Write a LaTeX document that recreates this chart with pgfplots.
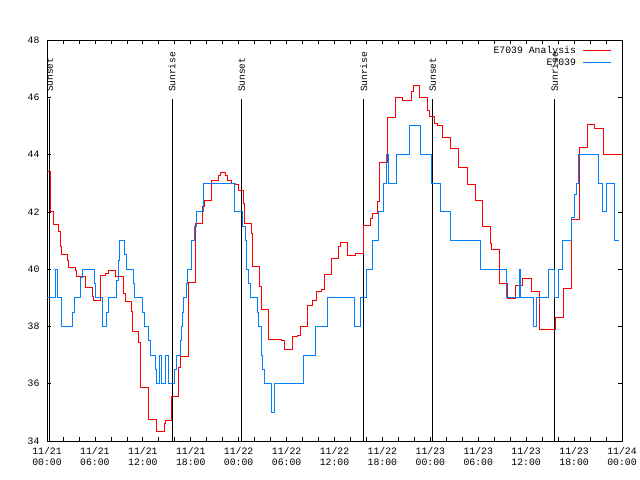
\documentclass[border=0pt]{standalone}
\usepackage{fontspec}
\setmainfont{Liberation Mono}
\usepackage{pgfplots}
\pgfplotsset{compat=1.18}
\definecolor{obsblue}{RGB}{0,128,255}
\begin{document}
\begin{tikzpicture}
\begin{axis}[
  at={(0,0)}, anchor=south west,
  scale only axis, width=575bp, height=401bp,
  xmin=0, xmax=72, ymin=34, ymax=48,
  xtick={0,6,...,72},
  minor x tick num=2,
  xticklabels={{11/21\\00:00},{11/21\\06:00},{11/21\\12:00},{11/21\\18:00},{11/22\\00:00},{11/22\\06:00},{11/22\\12:00},{11/22\\18:00},{11/23\\00:00},{11/23\\06:00},{11/23\\12:00},{11/23\\18:00},{11/24\\00:00}},
  ytick={34,36,...,48},
  tick align=inside,
  major tick length=4bp, minor tick length=4bp,
  every tick/.style={black, line width=0.7bp},
  axis line style={line width=0.8bp},
  xticklabel style={align=center, font=\fontsize{9.8bp}{11bp}\selectfont, yshift=-3bp},
  yticklabel style={font=\fontsize{9.8bp}{11bp}\selectfont, xshift=-4bp},
  /pgf/number format/assume math mode=true,
  legend style={at={(axis description cs:1,1)}, anchor=north east, draw=none, fill=none,
    xshift=-10bp, yshift=-4bp, inner sep=0pt, row sep=0pt, column sep=5bp,
    font=\fontsize{9.8bp}{11bp}\selectfont},
  legend cell align=right, legend plot pos=right,
  legend image code/.code={\draw[#1] (0bp,0bp) -- (28bp,0bp);},
]
% Sunrise / sunset markers
\addplot[black, line width=0.8bp, forget plot] coordinates {(0.33,34) (0.33,45.95)};
\addplot[black, line width=0.8bp, forget plot] coordinates {(15.65,34) (15.65,45.95)};
\addplot[black, line width=0.8bp, forget plot] coordinates {(24.4,34) (24.4,45.95)};
\addplot[black, line width=0.8bp, forget plot] coordinates {(39.65,34) (39.65,45.95)};
\addplot[black, line width=0.8bp, forget plot] coordinates {(48.29,34) (48.29,45.95)};
\addplot[black, line width=0.8bp, forget plot] coordinates {(63.56,34) (63.56,45.95)};

\addplot[red, line width=0.9bp, const plot] coordinates {
(0,43.40) (0.42,42.0) (0.75,41.55) (1.46,41.3) (1.67,40.78) (1.75,40.52) (2.50,40.31) (2.71,40.06)
(3.55,39.97) (3.67,39.74) (4.80,39.36) (5.63,39.03) (5.84,38.9) (6.68,39.79) (7.3,39.85) (7.72,39.94)
(8.56,39.73) (9.60,39.15) (9.81,38.86) (10.52,38.51) (10.64,37.81) (11.48,37.44) (11.69,35.87)
(12.65,34.76) (13.69,34.33) (14.69,34.62) (14.82,34.71) (15.57,35.55) (16.49,36.57) (16.69,36.94)
(17.65,39.52) (18.57,41.6) (19.49,42.2) (19.66,42.4) (20.6,43.1) (21.49,43.26) (21.70,43.36)
(22.33,43.26) (22.62,43.1) (23.1,43.0) (23.58,42.95) (24.0,42.76) (24.54,42.29) (24.75,41.6)
(25.6,41.24) (25.67,40.1) (26.63,39.4) (26.79,38.59) (27.67,37.55) (29.4,37.5) (29.72,37.2)
(30.68,37.66) (31.35,37.7) (31.72,38.0) (32.64,38.72) (33.3,38.9) (33.72,39.22) (34.4,39.3)
(34.73,39.8) (35.68,40.36) (36.52,40.8) (36.73,40.93) (37.65,40.49) (38.61,40.55) (39.57,41.27)
(39.65,41.52) (40.49,41.76) (40.69,41.94) (41.40,42.35) (41.61,43.71) (42.57,45.29) (43.61,46.01)
(44.57,45.9) (45.58,46.22) (45.83,46.42) (46.66,45.98) (47.58,45.55) (47.87,45.34) (48.50,45.08)
(48.9,45.02) (49.46,44.59) (50.50,44.21) (51.54,43.55) (52.59,42.97) (53.63,42.41) (54.55,41.48)
(55.51,40.9) (55.59,40.69) (56.68,39.5) (57.68,38.98) (58.68,39.44) (59.59,39.67) (60.60,39.21)
(61.64,37.9) (63.65,38.31) (64.70,39.33) (65.63,41.73) (66.61,44.24) (67.62,45.05) (68.53,44.91)
(69.70,44.01) (72,44.0)
};
\addlegendentry{E7039 Analysis}

\addplot[obsblue, line width=0.9bp, const plot] coordinates {
(0,39) (1.08,40) (1.25,39) (1.85,38) (3.2,38.5) (3.45,39) (4.25,39.7) (4.4,40) (5.95,39.5) (6.05,39)
(6.9,38.5) (7.0,38) (7.5,38.5) (7.65,39) (8.75,39.6) (8.95,40.3) (9.12,41) (9.75,40.5) (9.95,40)
(10.85,39.5) (11.0,39) (12.0,38.5) (12.2,38) (12.72,37.5) (12.9,37) (13.62,36.5) (13.75,36) (14.05,37)
(14.33,36) (14.88,37) (15.17,36) (16.0,36.5) (16.2,37) (16.75,37.5) (16.86,38) (17.0,38.5) (17.1,39)
(17.5,39.5) (17.6,40) (18.1,41) (18.5,41.5) (18.7,42) (19.57,43) (23.45,42) (24.5,41.5) (24.8,41)
(25.0,40) (25.25,39.5) (25.5,39) (26.3,38.5) (26.5,38) (26.8,37) (27.0,36.5) (27.2,36) (28.15,35)
(28.45,36) (32.1,37) (33.65,38) (35.15,39) (38.5,38) (39.25,39) (40.0,40) (40.8,41) (41.5,42)
(42.1,43) (42.45,44) (42.8,43) (43.75,44) (45.35,45) (46.8,44) (48.1,43) (49.25,42) (50.55,41)
(54.3,40) (57.5,39) (59.15,40) (59.25,39) (60.9,38) (61.3,39) (62.85,40) (63.55,39) (64.0,40)
(64.6,41) (65.65,41.8) (66.1,42.6) (66.3,43) (66.6,44) (69.0,43) (69.55,42) (70.05,43) (71.1,41)
(71.6,41)
};
\addlegendentry{E7039}

\foreach \h/\t in {0.33/Sunset,15.65/Sunrise,24.4/Sunset,39.65/Sunrise,48.29/Sunset,63.56/Sunrise}{
  \edef\tmp{\noexpand\node[rotate=90, anchor=west, inner sep=0pt, font=\noexpand\fontsize{9.5bp}{11bp}\noexpand\selectfont] at (axis cs:\h,46.18) {\t};}
  \tmp
}
\node[font=\fontsize{9.8bp}{11bp}\selectfont] at (axis description cs:0.495,1.05) {Temperature for E7039 on 2024-Nov-21 (time in UTC)};
\node[rotate=90, font=\fontsize{9.5bp}{11bp}\selectfont] at (axis description cs:-0.064,0.5) {degrees F};
\end{axis}
\pgfresetboundingbox
\path (-47bp,-39bp) rectangle (593bp,441bp);
\end{tikzpicture}
\end{document}
